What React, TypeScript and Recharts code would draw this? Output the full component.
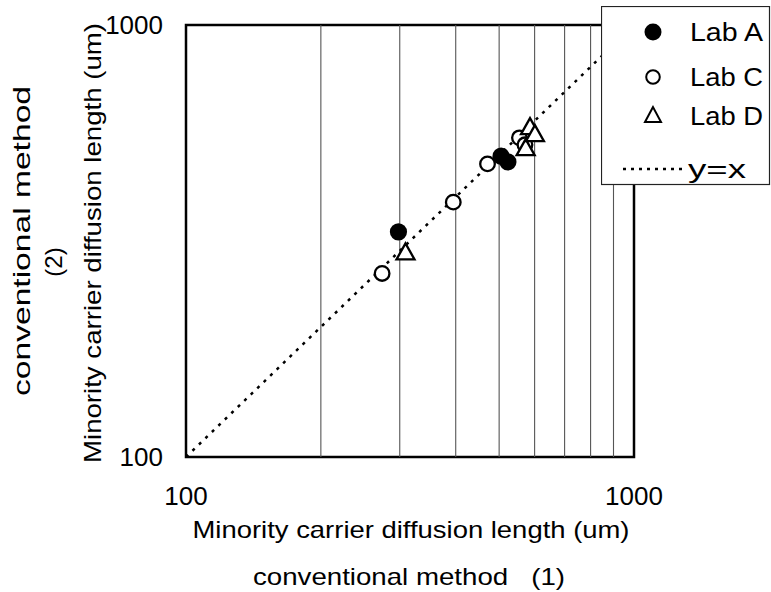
import React from 'react';
import {
  ScatterChart,
  Scatter,
  XAxis,
  YAxis,
  ReferenceLine,
  ReferenceArea,
  Legend,
  Label,
} from 'recharts';

const FONT = '"Liberation Sans", Arial, sans-serif';

// axis ticks (log scale, both axes)
const AXIS_TICKS = [100, 1000];
const GRID_X = [200, 300, 400, 500, 600, 700, 800, 900];
const DOMAIN: [number, number] = [100, 1000];

// Lab A (filled circles)
const labAx = [298, 505, 523];
const labAy = [332, 497, 482];
// Lab C (open circles)
const labCx = [274, 395, 471, 555, 571];
const labCy = [266, 389, 477, 548, 528];
// Lab D (open triangles)
const labDx = [309, 573, 586, 601];
const labDy = [296, 516, 577, 556];

const LEGEND_LABELS = ['Lab A', 'Lab C', 'Lab D', 'y=x'];

const zip = (xs: number[], ys: number[]) => xs.map((x, i) => ({ x, y: ys[i] }));

const FilledDot = (p: any) => <circle cx={p.cx} cy={p.cy} r={8.6} fill="#000" />;
const OpenDot = (p: any) => (
  <circle cx={p.cx} cy={p.cy} r={7.3} fill="#fff" stroke="#000" strokeWidth={2.3} />
);
const Tri = (p: any) => (
  <polygon
    points={`${p.cx},${p.cy - 10} ${p.cx - 9},${p.cy + 6} ${p.cx + 9},${p.cy + 6}`}
    fill="#fff"
    stroke="#000"
    strokeWidth={2.3}
    strokeLinejoin="miter"
  />
);

function LegendBox() {
  const rows = [26, 71, 110, 163];
  return (
    <svg width={170} height={180} style={{ display: 'block' }}>
      <rect x={0.5} y={0.5} width={168} height={178} fill="#fff" stroke="#222" strokeWidth={1.2} />
      <circle cx={52} cy={rows[0]} r={8.5} fill="#000" />
      <circle cx={52} cy={rows[1]} r={6.8} fill="#fff" stroke="#000" strokeWidth={2} />
      <polygon
        points={`52,${rows[2] - 9} 44,${rows[2] + 6} 60,${rows[2] + 6}`}
        fill="#fff"
        stroke="#000"
        strokeWidth={2}
      />
      <line x1={22} x2={86} y1={rows[3]} y2={rows[3]} stroke="#000" strokeWidth={2.5} strokeDasharray="3 5" />
      {LEGEND_LABELS.map((t, i) => (
        <text
          key={t}
          x={i === 3 ? 87 : 89}
          y={rows[i]}
          dy="0.36em"
          fontSize={25}
          fontFamily={FONT}
          fill="#000"
          textLength={i === 3 ? 58 : 73}
          lengthAdjust="spacingAndGlyphs"
        >
          {t}
        </text>
      ))}
    </svg>
  );
}

const XLabels = (props: any) => {
  const vb = props.viewBox;
  const cx = vb.x + vb.width / 2;
  return (
    <g fontFamily={FONT} fill="#000">
      <text x={cx + 1} y={vb.y + 81} fontSize={24} textAnchor="middle" textLength={437} lengthAdjust="spacingAndGlyphs">
        Minority carrier diffusion length (um)
      </text>
      <text x={cx - 1} y={vb.y + 128} fontSize={24} textAnchor="middle" textLength={312} lengthAdjust="spacingAndGlyphs" xmlSpace="preserve">
        conventional method   (1)
      </text>
    </g>
  );
};

const YLabels = (props: any) => {
  const vb = props.viewBox;
  const cy = vb.y + vb.height / 2;
  return (
    <g fontFamily={FONT} fill="#000">
      <text
        transform={`translate(101, ${cy + 2}) rotate(-90)`}
        fontSize={24}
        textAnchor="middle"
        textLength={440}
        lengthAdjust="spacingAndGlyphs"
      >
        Minority carrier diffusion length (um)
      </text>
      <text transform={`translate(62, ${cy + 21}) rotate(-90)`} fontSize={24} textAnchor="middle">
        (2)
      </text>
      <text
        transform={`translate(30, ${cy}) rotate(-90)`}
        fontSize={24}
        textAnchor="middle"
        textLength={310}
        lengthAdjust="spacingAndGlyphs"
      >
        conventional method
      </text>
    </g>
  );
};

export default function App() {
  const tickStyle = { fontSize: 26, fill: '#000', fontFamily: FONT };
  return (
    <div style={{ position: 'absolute', left: 0, top: 0, background: '#fff' }}>
      <ScatterChart width={771} height={592} margin={{ top: 25, right: 137, bottom: 0, left: 0 }}>
        <XAxis
          type="number"
          dataKey="x"
          scale="log"
          domain={DOMAIN}
          ticks={AXIS_TICKS}
          allowDataOverflow
          height={135}
          axisLine={false}
          tickLine={false}
          tickSize={0}
          tickMargin={30}
          tick={tickStyle}
          interval={0}
        >
          <Label content={XLabels} />
        </XAxis>
        <YAxis
          type="number"
          dataKey="y"
          scale="log"
          domain={DOMAIN}
          ticks={AXIS_TICKS}
          allowDataOverflow
          width={186}
          axisLine={false}
          tickLine={false}
          tickSize={0}
          tickMargin={23}
          tick={tickStyle}
          interval={0}
        >
          <Label content={YLabels} />
        </YAxis>
        {GRID_X.map((v) => (
          <ReferenceLine key={v} x={v} stroke="#555" strokeWidth={1.1} />
        ))}
        <ReferenceLine
          segment={[
            { x: 100, y: 100 },
            { x: 1000, y: 1000 },
          ]}
          stroke="#000"
          strokeWidth={2.5}
          strokeDasharray="3 6"
        />
        <ReferenceArea x1={100} x2={1000} y1={100} y2={1000} fill="none" fillOpacity={0} stroke="#000" strokeWidth={2.5} />
        <Scatter name="Lab C" data={zip(labCx, labCy)} shape={OpenDot} isAnimationActive={false} />
        <Scatter name="Lab D" data={zip(labDx, labDy)} shape={Tri} isAnimationActive={false} />
        <Scatter name="Lab A" data={zip(labAx, labAy)} shape={FilledDot} isAnimationActive={false} />
        <Legend
          layout="vertical"
          align="center"
          verticalAlign="middle"
          wrapperStyle={{ position: 'absolute', left: 601, top: 6, width: 170, height: 180 }}
          content={() => <LegendBox />}
        />
      </ScatterChart>
    </div>
  );
}
